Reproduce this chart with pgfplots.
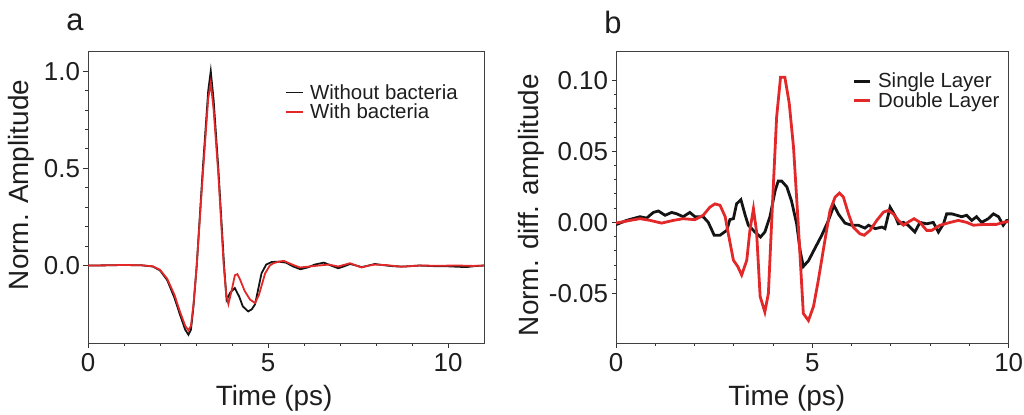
\documentclass[border=0pt]{standalone}
\usepackage{pgfplots}
\pgfplotsset{compat=1.18}
\usepackage{fontspec}
\setmainfont{Liberation Sans}
\definecolor{myred}{RGB}{226,40,40}
\definecolor{myblack}{RGB}{20,20,20}
\definecolor{txt}{RGB}{30,30,30}
\begin{document}
\begin{tikzpicture}
\path[use as bounding box] (0,0) rectangle (1024bp,415bp);
\pgfplotsset{
  common/.style={
    scale only axis,
    anchor=south west,
    axis line style={draw=black!75, line width=1bp},
    tick align=outside,
    xtick pos=bottom, ytick pos=left,
    major tick length=4.5bp, minor tick length=2.5bp,
    every tick/.style={black!80, line width=0.9bp},
    /pgf/number format/assume math mode=true,
    tick label style={font=\fontsize{26}{30}\selectfont, text=txt},
    label style={font=\fontsize{28}{32}\selectfont, text=txt},
    legend style={draw=none, fill=none, font=\fontsize{20.5}{24}\selectfont, text=txt,
      row sep=0bp, inner sep=0pt, outer sep=0pt, nodes={inner sep=1.5bp}},
    legend cell align=left,
    minor x tick num=4, minor y tick num=4,
    xtick={0,5,10},
    xticklabel style={yshift=-2bp},
  }
}
% ---------------- panel a ----------------
\begin{axis}[common,
  at={(88bp,71.7bp)}, width=396bp, height=291.6bp,
  xmin=0, xmax=11, ymin=-0.4, ymax=1.1,
  ytick={0,0.5,1.0},
  yticklabel style={/pgf/number format/.cd, fixed, fixed zerofill, precision=1},
  xlabel={Time (ps)}, ylabel={Norm. Amplitude},
  xlabel style={at={(axis description cs:0.47,0)}, anchor=north, yshift=-38bp},
  ylabel style={at={(axis description cs:-0.169,0.543)}, anchor=center},
  legend style={at={(axis description cs:0.497,0.893)}, anchor=north west},
  legend image code/.code={\draw[#1, line width=1.8bp] (0bp,0bp) -- (17bp,0bp);\path (22bp,0bp);},
]
\addplot[myblack, line width=1.8bp] coordinates {
(0,0) (0.5,0.001) (1.0,0.003) (1.5,0.001) (1.8,-0.005) (2.0,-0.025) (2.2,-0.075)
(2.4,-0.165) (2.55,-0.25) (2.7,-0.33) (2.79,-0.356) (2.86,-0.33) (2.93,-0.21)
(3.02,0.0) (3.19,0.5) (3.34,0.9) (3.41,1.0) (3.49,0.85) (3.62,0.5) (3.78,0.0)
(3.85,-0.176) (3.95,-0.14) (4.08,-0.116) (4.2,-0.16) (4.3,-0.21) (4.45,-0.236)
(4.55,-0.225) (4.64,-0.2) (4.82,-0.04) (4.95,0.005) (5.1,0.018) (5.3,0.02)
(5.5,0.015) (5.7,-0.005) (5.9,-0.019) (6.1,-0.01) (6.3,0.005) (6.55,0.015)
(6.75,0.0) (6.95,-0.014) (7.1,-0.005) (7.28,0.008) (7.45,0.0) (7.6,-0.008)
(7.8,0.0) (7.97,0.008) (8.2,0.002) (8.5,-0.004) (8.8,-0.005) (9.2,0.0)
(9.6,-0.003) (10.0,-0.004) (10.5,-0.008) (10.8,-0.002) (11,0)
};
\addlegendentry{Without bacteria}
\addplot[myred, line width=1.8bp] coordinates {
(0,0) (0.5,0.001) (1.0,0.003) (1.5,0.001) (1.8,-0.004) (2.0,-0.022) (2.2,-0.068)
(2.4,-0.15) (2.55,-0.235) (2.7,-0.31) (2.79,-0.333) (2.86,-0.31) (2.93,-0.2)
(3.02,0.0) (3.19,0.47) (3.34,0.86) (3.41,0.94) (3.49,0.8) (3.62,0.47) (3.77,0.0)
(3.84,-0.15) (3.9,-0.198) (4.0,-0.12) (4.08,-0.05) (4.15,-0.044) (4.22,-0.07)
(4.35,-0.13) (4.5,-0.175) (4.64,-0.193) (4.75,-0.15) (4.92,-0.04) (5.05,0.0)
(5.15,0.012) (5.3,0.02) (5.44,0.024) (5.7,0.003) (5.89,-0.01) (6.1,-0.006)
(6.4,0.0) (6.7,0.005) (6.95,-0.005) (7.28,0.012) (7.45,0.0) (7.6,-0.01)
(7.8,0.0) (7.97,0.005) (8.3,0.002) (8.7,-0.006) (9.2,0.0) (9.7,-0.001)
(10.3,0.0) (10.7,-0.002) (11,0)
};
\addlegendentry{With bacteria}
\end{axis}
\node[font=\fontsize{31}{34}\selectfont, text=txt] at (75bp,393bp) {a};
% ---------------- panel b ----------------
\begin{axis}[common,
  at={(616bp,71.7bp)}, width=392.7bp, height=291.6bp,
  xmin=0, xmax=10, ymin=-0.085, ymax=0.12,
  ytick={-0.05,0,0.05,0.10},
  yticklabel style={/pgf/number format/.cd, fixed, fixed zerofill, precision=2},
  xlabel={Time (ps)}, ylabel={Norm. diff. amplitude},
  xlabel style={at={(axis description cs:0.435,0)}, anchor=north, yshift=-38bp},
  ylabel style={at={(axis description cs:-0.215,0.474)}, anchor=center},
  legend style={at={(axis description cs:0.603,0.932)}, anchor=north west},
  legend image code/.code={\draw[#1] (0bp,0bp) -- (16bp,0bp);\path (21bp,0bp);},
]
\addplot[myblack, line width=2.8bp] coordinates {
(0,-0.0016) (0.27,0.0014) (0.61,0.004) (0.78,0.003) (0.95,0.007) (1.08,0.008)
(1.25,0.005) (1.42,0.007) (1.55,0.006) (1.71,0.004) (1.88,0.007) (2.01,0.004)
(2.22,0.004) (2.35,0.0) (2.5,-0.009) (2.65,-0.009) (2.82,-0.0056) (2.9,0.002)
(2.99,0.0026) (3.07,0.013) (3.18,0.016) (3.29,0.005) (3.37,-0.002) (3.54,-0.0068)
(3.68,-0.0103) (3.79,-0.0068) (3.92,0.004) (4.05,0.022) (4.13,0.029) (4.22,0.029)
(4.35,0.025) (4.47,0.015) (4.6,-0.001) (4.69,-0.02) (4.77,-0.031) (4.9,-0.027)
(5.07,-0.018) (5.24,-0.009) (5.41,0.0014) (5.55,0.012) (5.66,0.006) (5.83,-0.0005)
(6.0,-0.002) (6.17,-0.002) (6.34,-0.004) (6.43,-0.002) (6.6,-0.0044) (6.77,-0.0033)
(6.85,-0.0044) (6.98,0.0107) (7.1,0.005) (7.19,-0.001) (7.32,0.0) (7.44,-0.002)
(7.61,-0.0068) (7.74,0.0) (7.91,-0.001) (8.08,0.0) (8.21,-0.0068) (8.34,-0.001)
(8.42,0.006) (8.55,0.006) (8.68,0.005) (8.8,0.004) (8.93,0.005) (9.06,0.0014)
(9.18,0.004) (9.31,0.0) (9.48,0.0026) (9.61,0.006) (9.74,0.004) (9.86,-0.002)
(9.95,0.0014) (10,0.0014)
};
\addlegendentry{Single Layer}
\addplot[myred, line width=2.8bp] coordinates {
(0,-0.0005) (0.36,0.0014) (0.61,0.0026) (0.87,0.0014) (1.16,-0.0005) (1.46,0.0014)
(1.71,0.0026) (2.01,0.0019) (2.22,0.005) (2.39,0.0107) (2.52,0.013) (2.65,0.012)
(2.78,0.004) (2.86,-0.008) (2.99,-0.0266) (3.1,-0.031) (3.2,-0.037) (3.33,-0.0266)
(3.41,-0.0056) (3.5,0.0096) (3.58,-0.0068) (3.67,-0.052) (3.79,-0.063) (3.88,-0.05)
(4.0,0.022) (4.09,0.074) (4.19,0.102) (4.3,0.102) (4.41,0.084) (4.52,0.053)
(4.64,-0.001) (4.77,-0.064) (4.9,-0.069) (5.03,-0.059) (5.15,-0.041) (5.32,-0.0126)
(5.45,0.0084) (5.58,0.0178) (5.69,0.0206) (5.79,0.0178) (5.92,0.006) (6.04,-0.0033)
(6.21,-0.008) (6.32,-0.009) (6.47,-0.0056) (6.64,0.0014) (6.81,0.0072) (6.93,0.0084)
(7.06,0.006) (7.19,0.0014) (7.32,-0.002) (7.44,0.0002) (7.59,0.0026) (7.74,0.0)
(7.91,-0.0056) (8.04,-0.0056) (8.25,-0.002) (8.51,0.0) (8.72,0.0014) (8.93,0.0)
(9.1,-0.002) (9.27,-0.0016) (9.52,-0.0014) (9.69,-0.0014) (9.86,0.0) (10,0.0007)
};
\addlegendentry{Double Layer}
\end{axis}
\node[font=\fontsize{31}{34}\selectfont, text=txt] at (613bp,393bp) {b};
\end{tikzpicture}
\end{document}
